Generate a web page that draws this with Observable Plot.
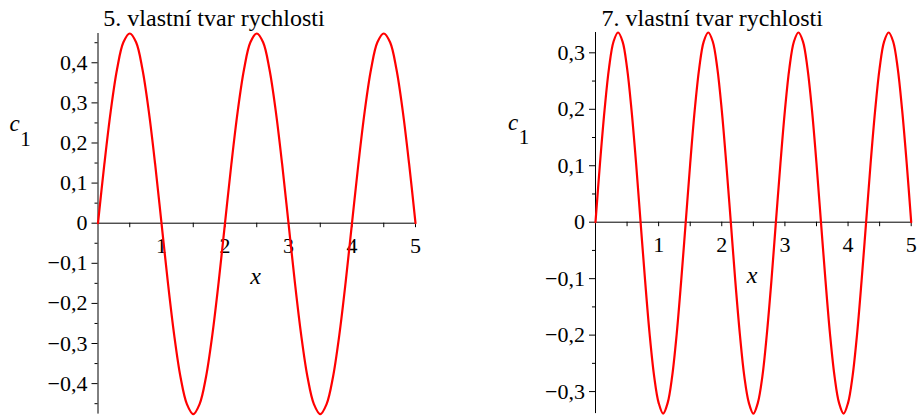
<!DOCTYPE html>
<html>
<head>
<meta charset="utf-8">
<script src="https://cdn.jsdelivr.net/npm/d3@7"></script>
<script src="https://cdn.jsdelivr.net/npm/@observablehq/plot@0.6"></script>
<style>
  html, body { margin: 0; padding: 0; background: #fff; }
  #wrap { position: relative; width: 919px; height: 417px; overflow: hidden; }
  #p5, #p7 { position: absolute; top: 0; }
  #p5 { left: 0; }
  #p7 { left: 460px; }
  svg text { font-family: "Liberation Serif", "Times New Roman", serif !important; }
</style>
</head>
<body>
<div id="wrap"><div id="p5"></div><div id="p7"></div></div>
<script>
// ---- data ----
const title5 = "5. vlastní tvar rychlosti";
const title7 = "7. vlastní tvar rychlosti";

const x5 = [0,0.1,0.2,0.3,0.4,0.5,0.6,0.7,0.8,0.9,1,1.1,1.2,1.3,1.4,1.5,1.6,1.7,1.8,1.9,2,2.1,2.2,2.3,2.4,2.5,2.6,2.7,2.8,2.9,3,3.1,3.2,3.3,3.4,3.5,3.6,3.7,3.8,3.9,4,4.1,4.2,4.3,4.4,4.5,4.6,4.7,4.8,4.9,5];
const y5 = [0,0.147,0.279,0.384,0.451,0.473,0.451,0.384,0.279,0.147,
  0,-0.147,-0.279,-0.384,-0.451,-0.476,-0.451,-0.384,-0.279,-0.147,
  0,0.147,0.279,0.384,0.451,0.473,0.451,0.384,0.279,0.147,
  0,-0.147,-0.279,-0.384,-0.451,-0.476,-0.451,-0.384,-0.279,-0.147,
  0,0.147,0.279,0.384,0.451,0.473,0.451,0.384,0.279,0.147,0];

const x7 = [0,0.071,0.143,0.214,0.286,0.357,0.429,0.5,0.571,0.643,0.714,0.786,0.857,0.929,1,
  1.071,1.143,1.214,1.286,1.357,1.429,1.5,1.571,1.643,1.714,1.786,1.857,1.929,2,
  2.071,2.143,2.214,2.286,2.357,2.429,2.5,2.571,2.643,2.714,2.786,2.857,2.929,3,
  3.071,3.143,3.214,3.286,3.357,3.429,3.5,3.571,3.643,3.714,3.786,3.857,3.929,4,
  4.071,4.143,4.214,4.286,4.357,4.429,4.5,4.571,4.643,4.714,4.786,4.857,4.929,5];
const y7 = [0,0.104,0.198,0.273,0.320,0.336,0.320,0.273,0.198,0.104,
  0,-0.104,-0.198,-0.273,-0.320,-0.339,-0.320,-0.273,-0.198,-0.104,
  0,0.104,0.198,0.273,0.320,0.336,0.320,0.273,0.198,0.104,
  0,-0.104,-0.198,-0.273,-0.320,-0.339,-0.320,-0.273,-0.198,-0.104,
  0,0.104,0.198,0.273,0.320,0.336,0.320,0.273,0.198,0.104,
  0,-0.104,-0.198,-0.273,-0.320,-0.339,-0.320,-0.273,-0.198,-0.104,
  0,0.104,0.198,0.273,0.320,0.336,0.320,0.273,0.198,0.104,0];

const xTicks = [1,2,3,4,5];
const xTickLabels = ["1","2","3","4","5"];
const xMinorTicks = [0.5,1.5,2.5,3.5,4.5];

const yTicks5 = [-0.4,-0.3,-0.2,-0.1,0,0.1,0.2,0.3,0.4];
const yTickLabels5 = ["−0,4","−0,3","−0,2","−0,1","0","0,1","0,2","0,3","0,4"];
const yMinor5 = [-0.45,-0.35,-0.25,-0.15,-0.05,0.05,0.15,0.25,0.35,0.45];

const yTicks7 = [-0.3,-0.2,-0.1,0,0.1,0.2,0.3];
const yTickLabels7 = ["−0,3","−0,2","−0,1","0","0,1","0,2","0,3"];
const yMinor7 = [-0.25,-0.15,-0.05,0.05,0.15,0.25];

// ---- drawing ----
const FONT = "Liberation Serif";

function panel(cfg) {
  const data = cfg.xs.map((x, i) => ({x, y: cfg.ys[i]}));
  const lab = new Map(cfg.yTicks.map((t, i) => [t, cfg.yLabels[i]]));
  const xlab = new Map(xTicks.map((t, i) => [t, xTickLabels[i]]));
  const allX = xTicks.concat(xMinorTicks);
  return Plot.plot({
    width: cfg.width, height: 417,
    marginLeft: cfg.ml, marginRight: cfg.mr, marginTop: cfg.mt, marginBottom: cfg.mb,
    x: {domain: [0, 5], label: null, axis: null},
    y: {domain: cfg.yDomain, label: null, axis: null},
    style: {fontFamily: FONT, fontSize: "22px", color: "#000", background: "transparent", overflow: "visible"},
    marks: [
      Plot.ruleY([0], {stroke: "#000", strokeWidth: 1}),
      Plot.ruleX([0], {stroke: "#000", strokeWidth: 1}),
      Plot.axisY(cfg.yTicks, {tickSize: 6, tickPadding: 4.5, tickFormat: (d) => lab.get(d), fontSize: 22, fontFamily: FONT, label: null, strokeWidth: 1}),
      Plot.axisY(cfg.yMinor, {tickSize: 3, tickFormat: () => "", label: null, strokeWidth: 1}),
      Plot.ruleX(allX, {x: (d) => d, y1: allX.map(() => 0), y2: allX.map(() => 0), insetTop: 0, insetBottom: -4.5, stroke: "#000", strokeWidth: 1}),
      Plot.text(xTicks, {x: (d) => d, y: 0, dy: 23, text: (d) => xlab.get(d), fontSize: 22, fontFamily: FONT}),
      Plot.text([cfg.title], {frameAnchor: "top-left", dx: cfg.titleDx, dy: cfg.titleDy, lineAnchor: "bottom", textAnchor: "middle", fontSize: 24, fontFamily: FONT}),
      Plot.text(["c"], {frameAnchor: "top-left", dx: cfg.cDx, dy: cfg.cDy, lineAnchor: "bottom", textAnchor: "middle", fontSize: 23, fontStyle: "italic", fontFamily: FONT}),
      Plot.text(["1"], {frameAnchor: "top-left", dx: cfg.cDx + 11, dy: cfg.cDy + 14.5, lineAnchor: "bottom", textAnchor: "middle", fontSize: 21, fontFamily: FONT}),
      Plot.text(["x"], {frameAnchor: "top-left", dx: cfg.xDx, dy: cfg.xDy, lineAnchor: "bottom", textAnchor: "middle", fontSize: 24, fontStyle: "italic", fontFamily: FONT}),
      Plot.line(data, {x: "x", y: "y", stroke: "#ff0000", strokeWidth: 2.2, curve: "catmull-rom"})
    ]
  });
}

document.getElementById("p5").append(panel({
  xs: x5, ys: y5, width: 460, ml: 97.5, mr: 45, mt: 33, mb: 3.4,
  yDomain: [-0.476, 0.473], yTicks: yTicks5, yLabels: yTickLabels5, yMinor: yMinor5,
  title: title5, titleDx: 116, titleDy: -8,
  cDx: -83.5, cDy: 97.5, xDx: 157.5, xDy: 250
}));

document.getElementById("p7").append(panel({
  xs: x7, ys: y7, width: 459, ml: 135, mr: 8.3, mt: 32, mb: 3.9,
  yDomain: [-0.339, 0.336], yTicks: yTicks7, yLabels: yTickLabels7, yMinor: yMinor7,
  title: title7, titleDx: 116.7, titleDy: -7,
  cDx: -82.5, cDy: 97, xDx: 156.5, xDy: 250
}));
</script>
</body>
</html>
